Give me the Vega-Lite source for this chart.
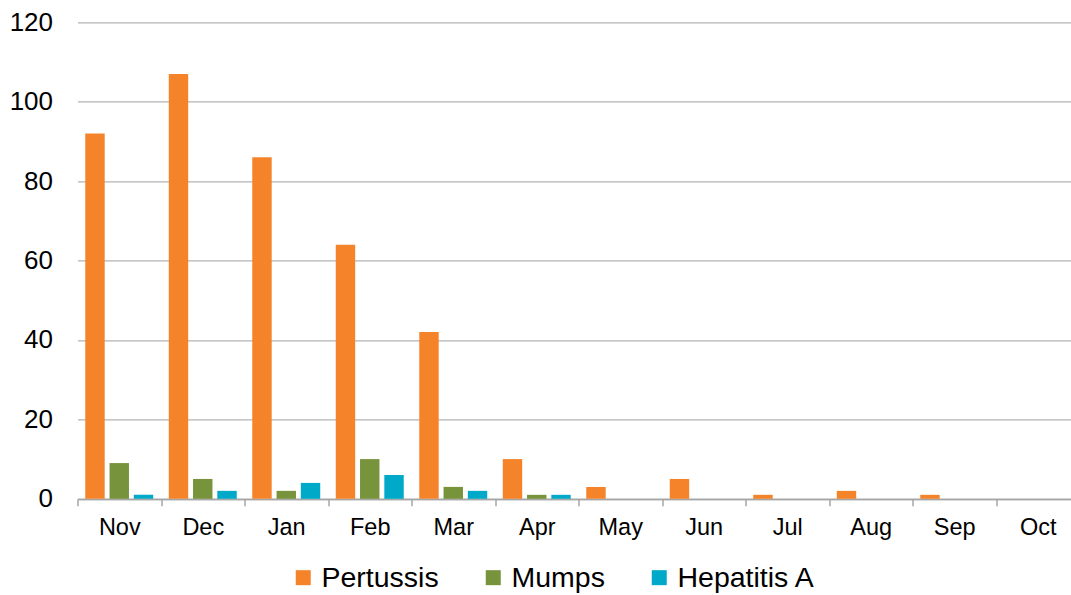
{
  "$schema": "https://vega.github.io/schema/vega-lite/v6.json",
  "autosize": "none",
  "width": 1002,
  "height": 476.5,
  "padding": {"left": 77.5, "top": 22.3, "right": 0, "bottom": 96},
  "background": "white",
  "config": {
    "font": "Liberation Sans",
    "view": {"stroke": null}
  },
  "data": {
    "values": [
      {"month": "Nov", "disease": "Pertussis", "cases": 92},
      {"month": "Nov", "disease": "Mumps", "cases": 9},
      {"month": "Nov", "disease": "Hepatitis A", "cases": 1},
      {"month": "Dec", "disease": "Pertussis", "cases": 107},
      {"month": "Dec", "disease": "Mumps", "cases": 5},
      {"month": "Dec", "disease": "Hepatitis A", "cases": 2},
      {"month": "Jan", "disease": "Pertussis", "cases": 86},
      {"month": "Jan", "disease": "Mumps", "cases": 2},
      {"month": "Jan", "disease": "Hepatitis A", "cases": 4},
      {"month": "Feb", "disease": "Pertussis", "cases": 64},
      {"month": "Feb", "disease": "Mumps", "cases": 10},
      {"month": "Feb", "disease": "Hepatitis A", "cases": 6},
      {"month": "Mar", "disease": "Pertussis", "cases": 42},
      {"month": "Mar", "disease": "Mumps", "cases": 3},
      {"month": "Mar", "disease": "Hepatitis A", "cases": 2},
      {"month": "Apr", "disease": "Pertussis", "cases": 10},
      {"month": "Apr", "disease": "Mumps", "cases": 1},
      {"month": "Apr", "disease": "Hepatitis A", "cases": 1},
      {"month": "May", "disease": "Pertussis", "cases": 3},
      {"month": "May", "disease": "Mumps", "cases": 0},
      {"month": "May", "disease": "Hepatitis A", "cases": 0},
      {"month": "Jun", "disease": "Pertussis", "cases": 5},
      {"month": "Jun", "disease": "Mumps", "cases": 0},
      {"month": "Jun", "disease": "Hepatitis A", "cases": 0},
      {"month": "Jul", "disease": "Pertussis", "cases": 1},
      {"month": "Jul", "disease": "Mumps", "cases": 0},
      {"month": "Jul", "disease": "Hepatitis A", "cases": 0},
      {"month": "Aug", "disease": "Pertussis", "cases": 2},
      {"month": "Aug", "disease": "Mumps", "cases": 0},
      {"month": "Aug", "disease": "Hepatitis A", "cases": 0},
      {"month": "Sep", "disease": "Pertussis", "cases": 1},
      {"month": "Sep", "disease": "Mumps", "cases": 0},
      {"month": "Sep", "disease": "Hepatitis A", "cases": 0},
      {"month": "Oct", "disease": "Pertussis", "cases": 0},
      {"month": "Oct", "disease": "Mumps", "cases": 0},
      {"month": "Oct", "disease": "Hepatitis A", "cases": 0}
    ]
  },
  "mark": {"type": "bar"},
  "encoding": {
    "x": {
      "field": "month",
      "type": "nominal",
      "sort": ["Nov", "Dec", "Jan", "Feb", "Mar", "Apr", "May", "Jun", "Jul", "Aug", "Sep", "Oct"],
      "scale": {"paddingInner": 0, "paddingOuter": 0},
      "axis": {
        "title": null,
        "labelAngle": 0,
        "labelFontSize": 23.5,
        "labelColor": "#000000",
        "labelPadding": 10,
        "tickBand": "extent",
        "ticks": true,
        "tickSize": 7,
        "tickColor": "#a6a6a6",
        "tickWidth": 1.5,
        "domainColor": "#a6a6a6",
        "domainWidth": 1.5,
        "grid": false
      }
    },
    "xOffset": {
      "field": "disease",
      "type": "nominal",
      "sort": ["Pertussis", "Mumps", "Hepatitis A"],
      "scale": {"paddingInner": 0.2, "paddingOuter": 0.32}
    },
    "y": {
      "field": "cases",
      "type": "quantitative",
      "scale": {"domain": [0, 120]},
      "axis": {
        "title": null,
        "values": [0, 20, 40, 60, 80, 100, 120],
        "labelFontSize": 26,
        "labelColor": "#000000",
        "labelPadding": 25,
        "ticks": false,
        "domain": false,
        "grid": true,
        "gridColor": "#b3b3b3",
        "gridWidth": 1.3
      }
    },
    "color": {
      "field": "disease",
      "type": "nominal",
      "sort": ["Pertussis", "Mumps", "Hepatitis A"],
      "scale": {
        "domain": ["Pertussis", "Mumps", "Hepatitis A"],
        "range": ["#F5832A", "#77933C", "#00A9C8"]
      },
      "legend": {
        "title": null,
        "orient": "none",
        "direction": "horizontal",
        "legendX": 211.5,
        "legendY": 541,
        "padding": 0,
        "symbolType": "square",
        "symbolSize": 225,
        "symbolStrokeWidth": 0,
        "labelFontSize": 28.5,
        "labelColor": "#000000",
        "labelOffset": 4,
        "columnPadding": 40,
        "labelLimit": 400
      }
    }
  }
}
